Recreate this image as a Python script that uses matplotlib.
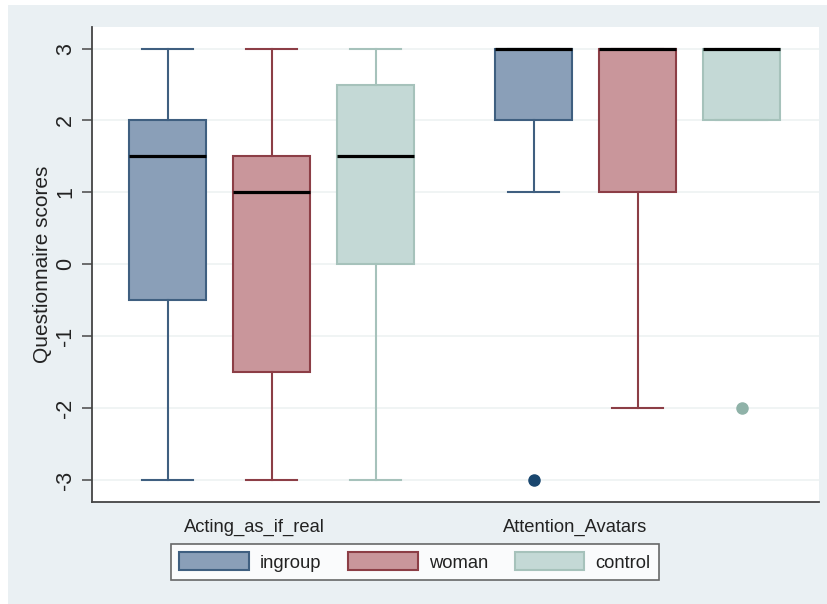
import matplotlib
matplotlib.use("Agg")
import matplotlib.pyplot as plt
from matplotlib.patches import Rectangle, Patch

plt.rcParams['font.family'] = ['Liberation Sans', 'DejaVu Sans']

categories = ["Acting_as_if_real", "Attention_Avatars"]
groups = ["ingroup", "woman", "control"]

# per category, per group: (whislo, q1, med, q3, whishi)
whislo = [[-3, -3, -3], [1, -2, 2]]
q1     = [[-0.5, -1.5, 0], [2, 1, 2]]
med    = [[1.5, 1, 1.5], [3, 3, 3]]
q3     = [[2, 1.5, 2.5], [3, 3, 3]]
whishi = [[3, 3, 3], [3, 3, 3]]
fliers = [[[], [], []], [[-3], [], [-2]]]

yticks = [-3, -2, -1, 0, 1, 2, 3]
ylabel = "Questionnaire scores"

fills = ["#8a9fb8", "#c9969b", "#c4d9d6"]
edges = ["#3f5f80", "#8c3e46", "#a6c2bb"]
flier_colors = ["#1a476f", "#90353b", "#8fb2a8"]

W, H = 828, 604
fig = plt.figure(figsize=(W/100, H/100), dpi=100, facecolor="white")
fig.patches.append(Rectangle((8/W, 0), 1, 1 - 5/H, transform=fig.transFigure,
                             facecolor="#eaf0f3", edgecolor="none", zorder=-10))
ax = fig.add_axes([92/W, 1 - 502/H, (819-92)/W, (502-27)/H])
ax.set_facecolor("white")

group_offsets = [0.0, 3.52]
for ci in range(len(categories)):
    for gi in range(len(groups)):
        pos = group_offsets[ci] + gi
        st = dict(whislo=whislo[ci][gi], q1=q1[ci][gi], med=med[ci][gi],
                  q3=q3[ci][gi], whishi=whishi[ci][gi], fliers=fliers[ci][gi])
        ax.bxp([st], positions=[pos], widths=0.74, patch_artist=True,
               showfliers=True, capwidths=0.49,
               boxprops=dict(facecolor=fills[gi], edgecolor=edges[gi], linewidth=1.5),
               whiskerprops=dict(color=edges[gi], linewidth=1.5),
               capprops=dict(color=edges[gi], linewidth=1.5),
               medianprops=dict(color="black", linewidth=2.3),
               flierprops=dict(marker="o", markerfacecolor=flier_colors[gi],
                               markeredgecolor=flier_colors[gi], markersize=8))

ax.set_xlim(-0.726, 6.264)
ax.set_ylim(-3.305, 3.3)
ax.set_yticks(yticks)
ax.set_yticklabels([str(t) for t in yticks], rotation=90, va="center", fontsize=15.5)
ax.tick_params(axis="y", length=7.2, width=1.2, color="#555555", pad=4.3, labelcolor="#222222")
ax.set_xticks([])
ax.grid(axis="y", color="#eef2f2", linewidth=1.2)
ax.set_axisbelow(True)
for s in ["top", "right"]:
    ax.spines[s].set_visible(False)
for s in ["left", "bottom"]:
    ax.spines[s].set_color("#444444")
    ax.spines[s].set_linewidth(1.3)
ax.set_ylabel(ylabel, fontsize=15, color="#222222")
ax.yaxis.set_label_coords((52 - 92) / 727, 0.5)

label_x = [0.84, 3.92]
for ci, cat in enumerate(categories):
    ax.text(label_x[ci], -3.66, cat, ha="center", va="center", fontsize=13.2, color="#222222")

handles = [Patch(facecolor=fills[i], edgecolor=edges[i], linewidth=1.5) for i in range(3)]
leg = fig.legend(handles, groups, loc="center", bbox_to_anchor=(415/W, 1 - 562/H),
                 ncol=3, fontsize=13.2, frameon=True, fancybox=False,
                 edgecolor="#444444", handlelength=3.8, handleheight=1.1,
                 columnspacing=1.45, handletextpad=0.6, borderpad=0.45,
                 borderaxespad=0)
leg.get_frame().set_linewidth(1.2)
for t in leg.get_texts():
    t.set_color("#222222")

fig.savefig("out.png", dpi=100, facecolor=fig.get_facecolor())
